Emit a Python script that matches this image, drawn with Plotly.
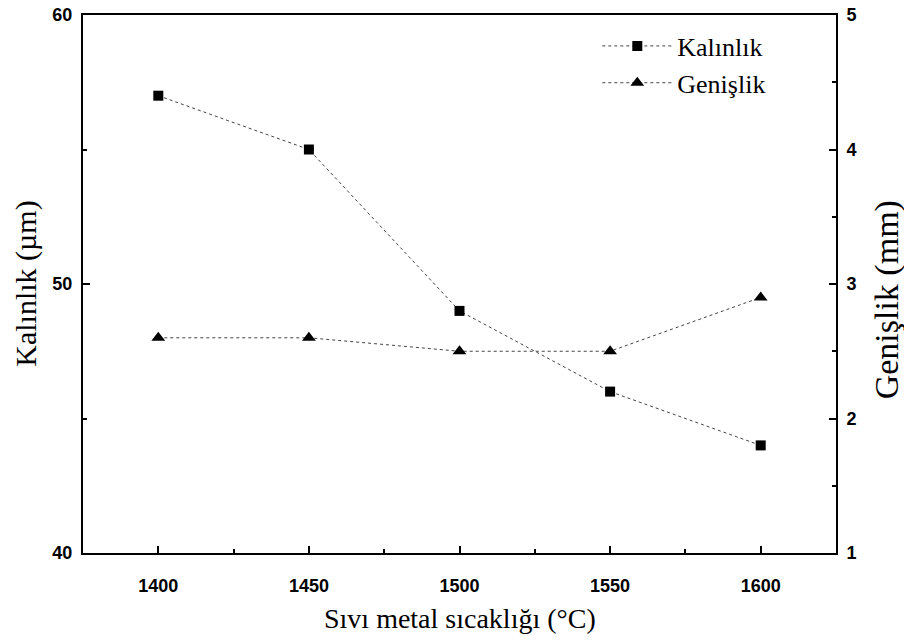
import plotly.graph_objects as go

temps = [1400, 1450, 1500, 1550, 1600]
kalinlik = [57, 55, 49, 46, 44]
genislik = [2.6, 2.6, 2.5, 2.5, 2.9]

x_ticks = [1400, 1450, 1500, 1550, 1600]
y1_ticks = [40, 50, 60]
y2_ticks = [1, 2, 3, 4, 5]

tickfont = dict(family="Liberation Sans", size=18, color="black", weight="bold")
serif = "Liberation Serif"

fig = go.Figure()
fig.add_trace(go.Scatter(
    x=temps, y=kalinlik, name="Kalınlık", mode="lines+markers",
    line=dict(color="#444444", width=1, dash="dot"),
    marker=dict(symbol="square", size=10, color="black"),
))
fig.add_trace(go.Scatter(
    x=temps, y=genislik, name="Genişlik", mode="lines+markers", yaxis="y2",
    line=dict(color="#444444", width=1, dash="dot"),
    marker=dict(symbol="triangle-up", size=12, color="black"),
))

axis_common = dict(showline=True, linecolor="black", linewidth=2, ticks="inside",
                   tickcolor="black", tickwidth=2, ticklen=7, showgrid=False,
                   zeroline=False, tickfont=tickfont, automargin=False)

fig.update_layout(
    width=904, height=644,
    margin=dict(l=83, r=68, t=15, b=91),
    paper_bgcolor="white", plot_bgcolor="white",
    showlegend=True,
    legend=dict(x=0.683, y=0.986, xanchor="left", yanchor="top",
                font=dict(family=serif, size=26, color="black"),
                bgcolor="rgba(0,0,0,0)", itemwidth=70, tracegroupgap=0),
    xaxis=dict(range=[1375, 1625], tickvals=x_ticks, mirror=True,
               ticklabelstandoff=15,
               minor=dict(ticks="inside", ticklen=4, tickwidth=2, tickcolor="black", dtick=25, tick0=1375),
               **axis_common),
    yaxis=dict(range=[40, 60], tickvals=y1_ticks, ticklabelstandoff=5,
               minor=dict(ticks="inside", ticklen=4, tickwidth=2, tickcolor="black", dtick=5, tick0=40),
               **axis_common),
    yaxis2=dict(range=[1, 5], tickvals=y2_ticks, overlaying="y", side="right",
                ticklabelstandoff=5,
                minor=dict(ticks="inside", ticklen=4, tickwidth=2, tickcolor="black", dtick=0.5, tick0=1),
                **axis_common),
    annotations=[
        dict(text="Sıvı metal sıcaklığı (°C)", xref="paper", yref="paper", x=0.5, y=-0.121,
             xanchor="center", yanchor="middle", showarrow=False,
             font=dict(family=serif, size=28, color="black")),
        dict(text="Kalınlık (µm)", xref="paper", yref="paper", x=-0.076, y=0.5,
             xanchor="center", yanchor="middle", showarrow=False, textangle=-90,
             font=dict(family=serif, size=30, color="black")),
        dict(text="Genişlik (mm)", xref="paper", yref="paper", x=1.068, y=0.47,
             xanchor="center", yanchor="middle", showarrow=False, textangle=-90,
             font=dict(family=serif, size=34, color="black")),
    ],
)

fig.write_html("out.html")
